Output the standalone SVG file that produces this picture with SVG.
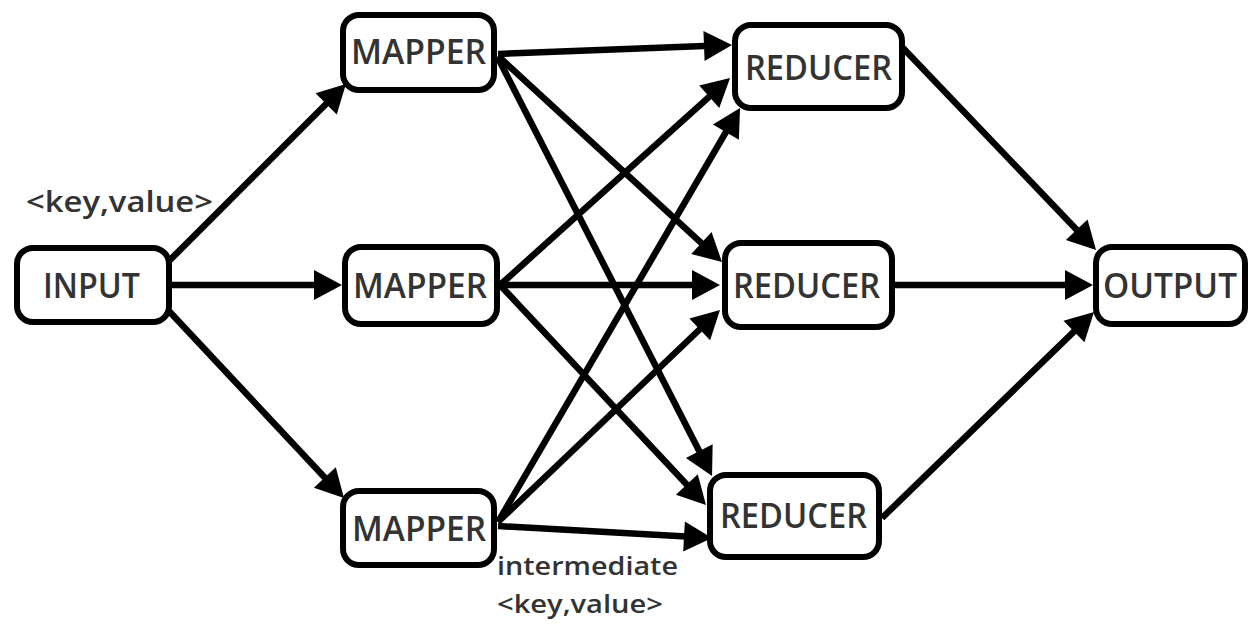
<svg xmlns="http://www.w3.org/2000/svg" width="1259" height="626" viewBox="0 0 1259 626">
  <style>
    .box { fill: #ffffff; stroke: #000000; stroke-width: 6; }
    .lbl { font-family: "Open Sans", "Liberation Sans", sans-serif; font-weight: 600; font-size: 34px; fill: #333333; }
    .note { font-family: "Open Sans", "Liberation Sans", sans-serif; font-weight: 600; fill: #333333; }
    .edge { stroke: #000000; stroke-width: 6.5; fill: none; marker-end: url(#head); }
  </style>
  <defs>
    <!-- filled arrowhead; the tip sits 8px past the line end so the butt cap stays hidden -->
    <marker id="head" markerUnits="userSpaceOnUse" markerWidth="28" markerHeight="30" refX="20" refY="15" orient="auto" overflow="visible">
      <path d="M0,0 L28,15 L0,30 z" fill="#000000"/>
    </marker>
  </defs>
  <rect width="1259" height="626" fill="#ffffff"/>

  <!-- connectors -->
  <g id="connectors">
    <line class="edge" x1="168" y1="262" x2="340.3" y2="89.7"/>
    <line class="edge" x1="172" y1="285" x2="334" y2="285"/>
    <line class="edge" x1="168" y1="310" x2="338.5" y2="492.2"/>

    <line class="edge" x1="498" y1="54" x2="724" y2="45.3"/>
    <line class="edge" x1="498" y1="56" x2="716.1" y2="256.6"/>
    <line class="edge" x1="498" y1="58" x2="708.4" y2="468.9"/>

    <line class="edge" x1="500" y1="285" x2="724.1" y2="83.4"/>
    <line class="edge" x1="500" y1="285" x2="712" y2="285"/>
    <line class="edge" x1="500" y1="285" x2="700.5" y2="499.2"/>

    <line class="edge" x1="498" y1="522" x2="736" y2="114.9"/>
    <line class="edge" x1="498" y1="522" x2="714.2" y2="315.5"/>
    <line class="edge" x1="498" y1="526" x2="704" y2="537.6"/>

    <line class="edge" x1="903" y1="48" x2="1090.5" y2="244.2"/>
    <line class="edge" x1="895" y1="285" x2="1085" y2="285"/>
    <line class="edge" x1="882" y1="518" x2="1088.3" y2="317.6"/>
  </g>

  <!-- nodes -->
  <g id="input">
    <rect class="box" x="17" y="248" width="152" height="74" rx="16"/>
    <text class="lbl" x="43" y="298" textLength="97" lengthAdjust="spacingAndGlyphs">INPUT</text>
  </g>
  <g id="mapper1">
    <rect class="box" x="343" y="15" width="151" height="75" rx="16"/>
    <text class="lbl" x="351" y="64" textLength="135" lengthAdjust="spacingAndGlyphs">MAPPER</text>
  </g>
  <g id="mapper2">
    <rect class="box" x="345" y="247" width="152" height="77" rx="16"/>
    <text class="lbl" x="353" y="298" textLength="134" lengthAdjust="spacingAndGlyphs">MAPPER</text>
  </g>
  <g id="mapper3">
    <rect class="box" x="343" y="491" width="151" height="74" rx="16"/>
    <text class="lbl" x="352" y="541" textLength="134" lengthAdjust="spacingAndGlyphs">MAPPER</text>
  </g>
  <g id="reducer1">
    <rect class="box" x="735" y="25" width="167" height="83" rx="16"/>
    <text class="lbl" x="745" y="80" textLength="147" lengthAdjust="spacingAndGlyphs">REDUCER</text>
  </g>
  <g id="reducer2">
    <rect class="box" x="725" y="243" width="167" height="84" rx="16"/>
    <text class="lbl" x="733" y="298" textLength="147" lengthAdjust="spacingAndGlyphs">REDUCER</text>
  </g>
  <g id="reducer3">
    <rect class="box" x="710" y="475" width="169" height="82" rx="16"/>
    <text class="lbl" x="720" y="528" textLength="147" lengthAdjust="spacingAndGlyphs">REDUCER</text>
  </g>
  <g id="output">
    <rect class="box" x="1096" y="247" width="149" height="77" rx="16"/>
    <text class="lbl" x="1103" y="298" textLength="134" lengthAdjust="spacingAndGlyphs">OUTPUT</text>
  </g>

  <!-- edge annotations -->
  <g id="labels">
    <text class="note" x="26" y="212" font-size="28" textLength="187" lengthAdjust="spacingAndGlyphs">&lt;key,value&gt;</text>
    <text class="note" x="497" y="575" font-size="26" textLength="181" lengthAdjust="spacingAndGlyphs">intermediate</text>
    <text class="note" x="497" y="613" font-size="26" textLength="166" lengthAdjust="spacingAndGlyphs">&lt;key,value&gt;</text>
  </g>
</svg>
